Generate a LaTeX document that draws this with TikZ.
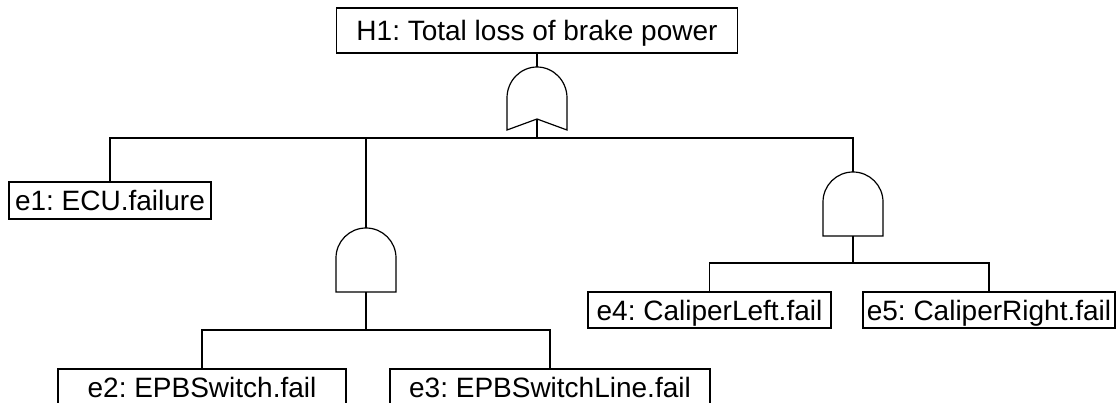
\documentclass[tikz,border=0pt]{standalone}
\usepackage{fontspec}
\setmainfont{Liberation Sans}
\frenchspacing
\tikzset{
  evbox/.style={draw, line width=1.2pt, inner sep=0pt, text height=20.4pt, text depth=0pt,
    minimum height=37pt, font=\fontsize{28pt}{34pt}\selectfont\frenchspacing},
  wire/.style={line width=1.2pt},
  gateshape/.style={draw, line width=1.2pt, line join=miter},
  andgate/.pic={
    \draw[gateshape] (-30,64) -- (-30,30) .. controls (-30,13.4) and (-16.6,0) .. (0,0)
      .. controls (16.6,0) and (30,13.4) .. (30,30) -- (30,64) -- cycle;
    \coordinate (-top) at (0,0);
    \coordinate (-bot) at (0,64);
  },
  orgate/.pic={
    \draw[gateshape] (-30,63) -- (-30,31) .. controls (-30,13.9) and (-16.6,0) .. (0,0)
      .. controls (16.6,0) and (30,13.9) .. (30,31) -- (30,63) -- (0,52) -- cycle;
    \coordinate (-top) at (0,0);
    \coordinate (-bot) at (0,52);
  }
}
\begin{document}
\begin{tikzpicture}[x=1pt, y=-1pt]
  \useasboundingbox (0,0) rectangle (1118,403);
  \clip (0,0) rectangle (1118,403);

  % event boxes
  \node[evbox, minimum width=401pt, minimum height=45pt] (top) at (537,30.5) {H1: Total loss of brake power};
  \node[evbox, minimum width=202pt] (e1) at (110,200.5) {e1: ECU.failure};
  \node[evbox, minimum width=288pt] (e2) at (202,387.5) {e2: EPBSwitch.fail};
  \node[evbox, minimum width=320pt] (e3) at (550,387.5) {e3: EPBSwitchLine.fail};
  \node[evbox, minimum width=243pt, minimum height=36pt] (e4) at (709.5,310) {e4: CaliperLeft.fail};
  \node[evbox, minimum width=252pt, minimum height=36pt] (e5) at (989,310) {e5: CaliperRight.fail};

  % gates
  \pic (gor) at (537,67) {orgate};
  \pic (ga) at (366,228) {andgate};
  \pic (gb) at (853,172) {andgate};

  % bus points
  \coordinate (b1) at (537,138);
  \coordinate (b2) at (366,330);
  \coordinate (b3) at (853,263);

  % connectors
  \draw[wire] (top.south) -- (gor-top);
  \draw[wire] (gor-bot) -- (b1);
  \draw[wire] (b1) -| (e1.north);
  \draw[wire] (b1) -| (ga-top);
  \draw[wire] (b1) -| (gb-top);
  \draw[wire] (ga-bot) -- (b2);
  \draw[wire] (b2) -| (e2.north);
  \draw[wire] (b2) -| (e3.north);
  \draw[wire] (gb-bot) -- (b3);
  \draw[wire] (b3) -| (e4.north);
  \draw[wire] (b3) -| (e5.north);
\end{tikzpicture}
\end{document}
